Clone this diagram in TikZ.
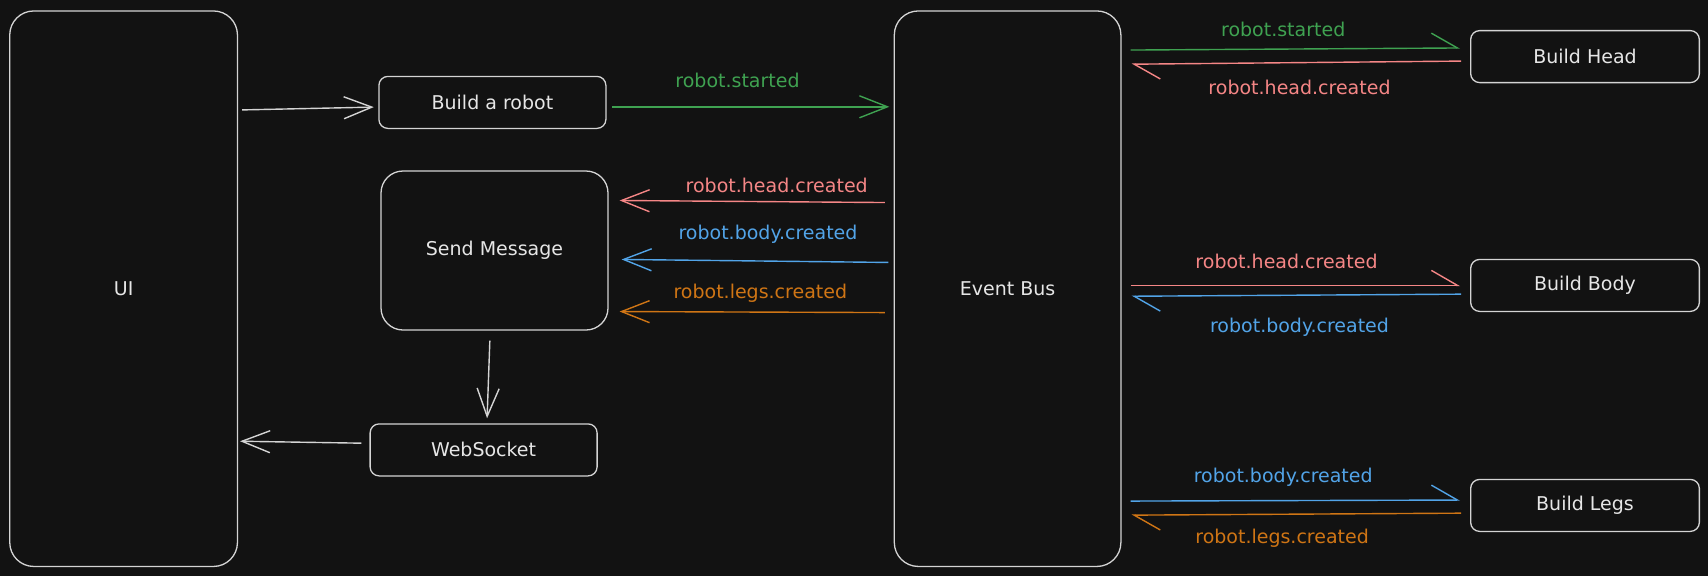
\documentclass[tikz,border=0pt]{standalone}
\usepackage{fontspec}
\setmainfont{DejaVu Sans}
\usetikzlibrary{arrows.meta}
\definecolor{bg}{HTML}{121212}
\definecolor{boxline}{HTML}{D4D4D4}
\definecolor{txt}{HTML}{E6E6E6}
\definecolor{cgreen}{HTML}{3FA251}
\definecolor{cred}{HTML}{F58686}
\definecolor{cblue}{HTML}{52A4E8}
\definecolor{corange}{HTML}{CF7515}
\tikzset{
  box/.style={draw=boxline, line width=1.3pt, rounded corners=9pt, fill=bg, text=txt,
    font=\fontsize{19}{22}\selectfont, inner sep=0pt, minimum width=227pt, minimum height=52pt},
  bigbox/.style={box, rounded corners=24pt},
  lbl/.style={font=\fontsize{19}{22}\selectfont, inner sep=0pt},
  arr/.style={line width=1.4pt, -{Straight Barb[length=28pt,width=22pt]}},
  harp/.style={line width=1.4pt, -{Straight Barb[left,length=26pt,width=30pt]}, shorten <=9pt, shorten >=10pt},
}
\begin{document}
\begin{tikzpicture}[x=1pt,y=-1pt]
\fill[bg] (0,0) rectangle (1708,576);
\useasboundingbox (0,0) rectangle (1708,576);

% nodes
\node[bigbox, minimum width=227.7pt, minimum height=555.5pt] (ui) at (123.6,288.7) {UI};
\node[box] (robot) at (492.4,102.4) {Build a robot};
\node[box, rounded corners=22pt, minimum height=159pt] (send) at (494.5,250.5) {Send Message};
\node[box] (ws) at (483.6,449.9) {WebSocket};
\node[bigbox, minimum width=226.6pt, minimum height=555.5pt] (eb) at (1007.6,288.7) {Event Bus};
\node[box, minimum width=228.7pt] (head) at (1585,56.6) {Build Head};
\node[box, minimum width=228.7pt] (body) at (1585,285.4) {Build Body};
\node[box, minimum width=228.7pt] (legs) at (1585,505.4) {Build Legs};

% left part
\draw[arr, boxline, shorten <=4pt, shorten >=4.5pt] (ui.east |- 0,110) -- (robot.west |- 0,107);
\draw[arr, cgreen, shorten <=5.5pt, shorten >=4.3pt] (robot.east |- 0,106.8) -- (eb.west |- 0,106.8);
\node[lbl, text=cgreen] (l1) at (737.5,80.6) {robot.started};

\draw[arr, cred, shorten <=8.7pt, shorten >=11pt] (eb.west |- 0,202.6) -- (send.east |- 0,200.4);
\node[lbl, text=cred] (l2) at (776.7,185.2) {robot.head.created};
\draw[arr, cblue, shorten <=5.4pt, shorten >=13pt] (eb.west |- 0,262.5) -- (send.east |- 0,259.3);
\node[lbl, text=cblue] (l3) at (768,234.2) {robot.body.created};
\draw[arr, corange, shorten <=8.7pt, shorten >=11pt] (eb.west |- 0,312.6) -- (send.east |- 0,311.5);
\node[lbl, text=corange] (l4) at (760.3,293) {robot.legs.created};

\draw[arr, boxline, shorten <=10pt, shorten >=5pt] (send.south -| 490.2,0) -- (ws.north -| 486.9,0);
\draw[arr, boxline, shorten <=8pt, shorten >=2pt] (ws.west |- 0,443.3) -- (ui.east |- 0,441.2);

% right part
\draw[harp, cgreen] (eb.east |- 0,50.1) -- (head.west |- 0,47.9);
\node[lbl, text=cgreen] (r1) at (1283.2,29.4) {robot.started};
\draw[harp, cred] (head.west |- 0,61) -- (eb.east |- 0,64.3);
\node[lbl, text=cred] (r2) at (1299.5,87.1) {robot.head.created};

\draw[harp, cred] (eb.east |- 0,285.4) -- (body.west |- 0,285.4);
\node[lbl, text=cred] (r3) at (1286.5,261.4) {robot.head.created};
\draw[harp, cblue] (body.west |- 0,294.1) -- (eb.east |- 0,296.3);
\node[lbl, text=cblue] (r4) at (1299.5,326.8) {robot.body.created};

\draw[harp, cblue] (eb.east |- 0,501.1) -- (legs.west |- 0,500);
\node[lbl, text=cblue] (r5) at (1283.2,477.1) {robot.body.created};
\draw[harp, corange] (legs.west |- 0,513.1) -- (eb.east |- 0,515.2);
\node[lbl, text=corange] (r6) at (1282.1,538.1) {robot.legs.created};
\end{tikzpicture}
\end{document}
